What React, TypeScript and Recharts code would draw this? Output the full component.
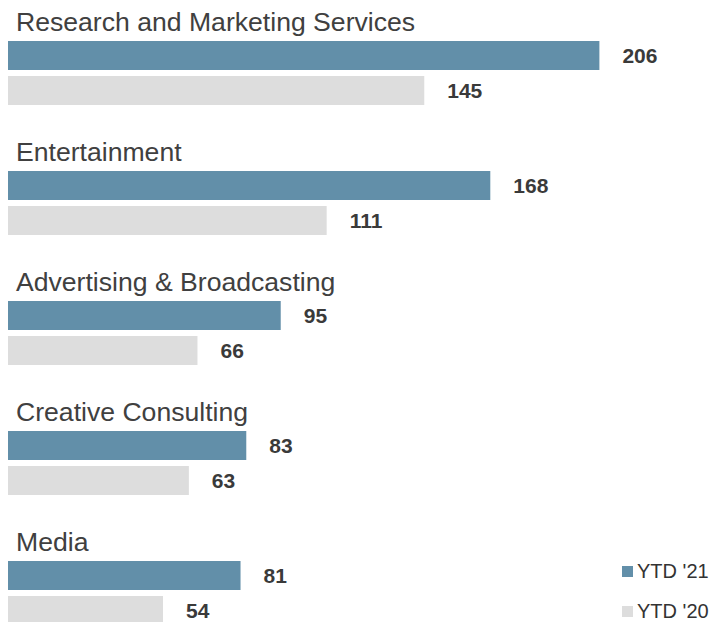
import React from 'react';
import { BarChart, Bar, XAxis, YAxis, LabelList } from 'recharts';

const categories = [
  'Research and Marketing Services',
  'Entertainment',
  'Advertising & Broadcasting',
  'Creative Consulting',
  'Media',
];
const ytd21 = [206, 168, 95, 83, 81];
const ytd20 = [145, 111, 66, 63, 54];
const seriesNames = ["YTD '21", "YTD '20"];
const seriesColors = ['#628fa9', '#dddddd'];

const data = categories.map((name, i) => ({ name, ytd21: ytd21[i], ytd20: ytd20[i] }));

const FONT = '"Liberation Sans", Arial, sans-serif';

const CategoryTick = (props: any) => {
  const { y, payload } = props;
  return (
    <text x={16} y={y - 42} fontSize={26.6} fill="#404040" fontFamily={FONT} textAnchor="start">
      {payload.value}
    </text>
  );
};

const labelStyle = { fontSize: 21, fontWeight: 700, fill: '#3a3a3a', fontFamily: FONT };

export default function App() {
  return (
    <div style={{ position: 'absolute', left: 0, top: 0, width: 715, height: 622, overflow: 'hidden', background: '#fff' }}>
      <BarChart
        width={715}
        height={660}
        data={data}
        layout="vertical"
        margin={{ top: 8, right: 18, bottom: 2, left: 7 }}
        barCategoryGap={33}
        barGap={6}
      >
        <XAxis type="number" domain={[0, 240]} hide />
        <YAxis
          type="category"
          dataKey="name"
          width={1}
          axisLine={false}
          tickLine={false}
          tick={<CategoryTick />}
          interval={0}
        />
        <Bar dataKey="ytd21" fill={seriesColors[0]} isAnimationActive={false}>
          <LabelList dataKey="ytd21" position="right" offset={23} style={labelStyle} />
        </Bar>
        <Bar dataKey="ytd20" fill={seriesColors[1]} isAnimationActive={false}>
          <LabelList dataKey="ytd20" position="right" offset={23} style={labelStyle} />
        </Bar>
      </BarChart>
      <div style={{ position: 'absolute', left: 622, top: 551, fontFamily: FONT, fontSize: 20, color: '#333' }}>
        {seriesNames.map((n, i) => (
          <div key={n} style={{ display: 'flex', alignItems: 'center', height: 40 }}>
            <span style={{ display: 'inline-block', width: 11, height: 11, background: seriesColors[i], marginRight: 4 }} />
            <span style={{ lineHeight: '20px' }}>{n}</span>
          </div>
        ))}
      </div>
    </div>
  );
}
